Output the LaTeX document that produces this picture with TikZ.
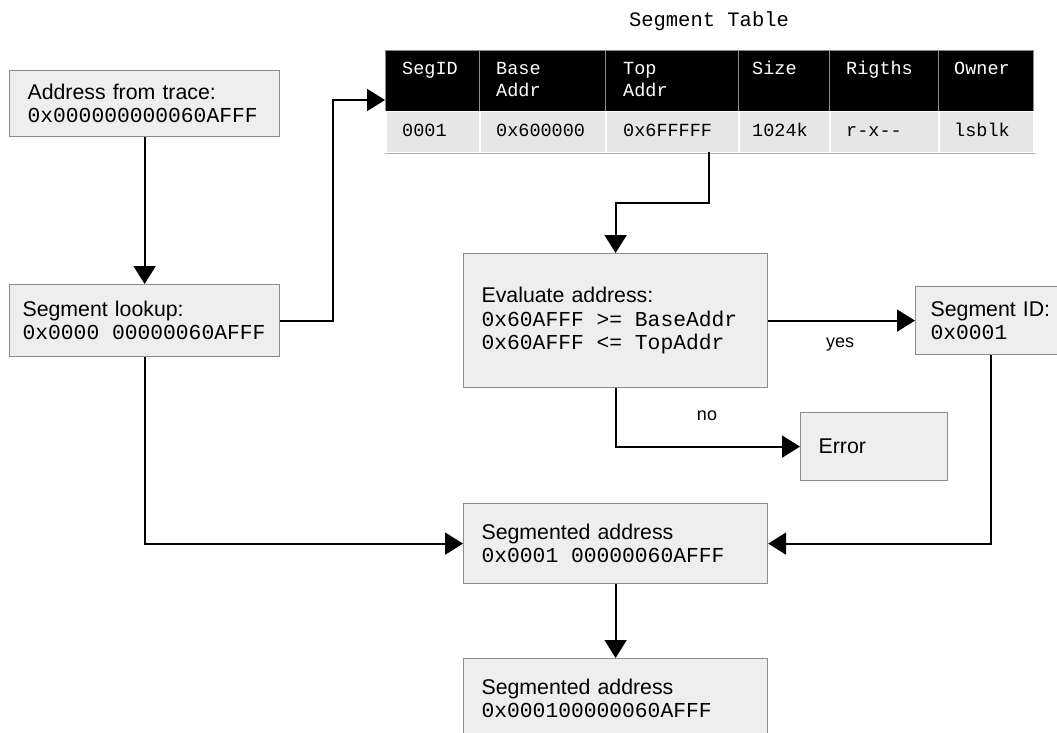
\documentclass[tikz,border=0pt]{standalone}
\usepackage{fontspec}
\setmainfont{Liberation Sans}
\setmonofont{Liberation Mono}
\usetikzlibrary{arrows.meta}
\definecolor{boxfill}{HTML}{EEEEEE}
\definecolor{boxline}{HTML}{8C8C8C}
\definecolor{rowfill}{HTML}{E6E6E6}
\definecolor{hdrsep}{HTML}{8A8A8A}
% fixed-width blank inside monospaced strings
\newcommand\msp{\hspace*{0.6em}}

\begin{document}
\begin{tikzpicture}[x=1pt,y=-1pt,
  box/.style={draw=boxline, line width=1.2pt, fill=boxfill, anchor=north west,
    align=left, inner ysep=0pt, font=\fontsize{21.3}{23.5}\selectfont},
  arr/.style={line width=2pt, -{Triangle[length=18pt,width=22pt]}},
  lbl/.style={font=\fontsize{18}{20}\selectfont},
  hcell/.style={fill=black, draw=hdrsep, line width=1pt, anchor=north west, inner sep=0pt},
  rcell/.style={fill=rowfill, draw=white, line width=1.5pt, anchor=north west, inner sep=0pt},
  htext/.style={anchor=base west, text=white, inner sep=0pt, font=\fontsize{18.5}{22}\selectfont\ttfamily},
  rtext/.style={anchor=base west, text=black, inner sep=0pt, font=\fontsize{18.5}{22}\selectfont\ttfamily}]
\useasboundingbox (0,0) rectangle (1057,733);

% left column
\node[box, minimum width=270pt, minimum height=66pt, inner xsep=18pt, text width=234pt]
  (trace) at (9,70) {Address from trace:\\\texttt{0x000000000060AFFF}};
\node[box, minimum width=270pt, minimum height=72pt, inner xsep=13pt, text width=244pt]
  (lookup) at (9,284) {Segment lookup:\\\texttt{0x0000\msp 00000060AFFF}};

% segment table
\node[font=\fontsize{20.5}{22}\selectfont\ttfamily, inner sep=0pt] (title) at (709,21) {Segment\msp Table};
\foreach \x/\w/\n in {385/94/c1, 479/126/c2, 605/133/c3, 738/91/c4, 829/109/c5, 938/95/c6}{
  \node[hcell, minimum width=\w pt, minimum height=61pt] (h\n) at (\x,50) {};
  \node[rcell, minimum width=\w pt, minimum height=41pt] (r\n) at (\x,111) {};
}
\draw[boxline!70, line width=1pt] (rc1.south west) -- (rc6.south east);
\node[htext] (t11) at (402,75) {SegID};
\node[htext] (t12) at (496,75) {Base};
\node[htext] (t12b) at (496,97) {Addr};
\node[htext] (t13) at (623,75) {Top};
\node[htext] (t13b) at (623,97) {Addr};
\node[htext] (t14) at (752,75) {Size};
\node[htext] (t15) at (846,75) {Rigths};
\node[htext] (t16) at (954,75) {Owner};
\node[rtext] (v1) at (402,137) {0001};
\node[rtext] (v2) at (496,137) {0x600000};
\node[rtext] (v3) at (623,137) {0x6FFFFF};
\node[rtext] (v4) at (752,137) {1024k};
\node[rtext] (v5) at (846,137) {r-x--};
\node[rtext] (v6) at (954,137) {lsblk};
\coordinate (tin) at (385,100);
\coordinate (tout) at (709,152);

% evaluation and results
\node[box, minimum width=304pt, minimum height=134pt, inner xsep=18pt, text width=268pt]
  (eval) at (463,253) {Evaluate address:\\\texttt{0x60AFFF\msp>=\msp BaseAddr}\\\texttt{0x60AFFF\msp<=\msp TopAddr}};
\node[box, minimum width=150pt, minimum height=68pt, inner xsep=15pt, text width=120pt]
  (segid) at (915,286) {Segment ID:\\\texttt{0x0001}};
\node[box, minimum width=147pt, minimum height=68pt, inner xsep=18pt, text width=111pt]
  (error) at (800,412) {Error};
\node[box, minimum width=304pt, minimum height=80pt, inner xsep=18pt, text width=268pt]
  (seg1) at (463,503) {Segmented address\\\texttt{0x0001\msp 00000060AFFF}};
\node[box, minimum width=304pt, minimum height=80pt, inner xsep=18pt, text width=268pt]
  (seg2) at (463,658) {Segmented address\\\texttt{0x000100000060AFFF}};

% connectors
\draw[arr] (trace.south) -- (lookup.north);
\draw[arr] (lookup.east) -- ++(53,0) |- (tin);
\draw[arr] (tout) -- ++(0,51) -| (eval.north);
\draw[arr] (eval.east) -- (segid.west);
\node[lbl] (yes) at (840,345) {yes};
\draw[arr] (eval.south) |- (error.west);
\node[lbl] (no) at (707,416) {no};
\draw[arr] (lookup.south) |- (seg1.west);
\draw[arr] (segid.south) |- (seg1.east);
\draw[arr] (seg1.south) -- (seg2.north);
\end{tikzpicture}
\end{document}
